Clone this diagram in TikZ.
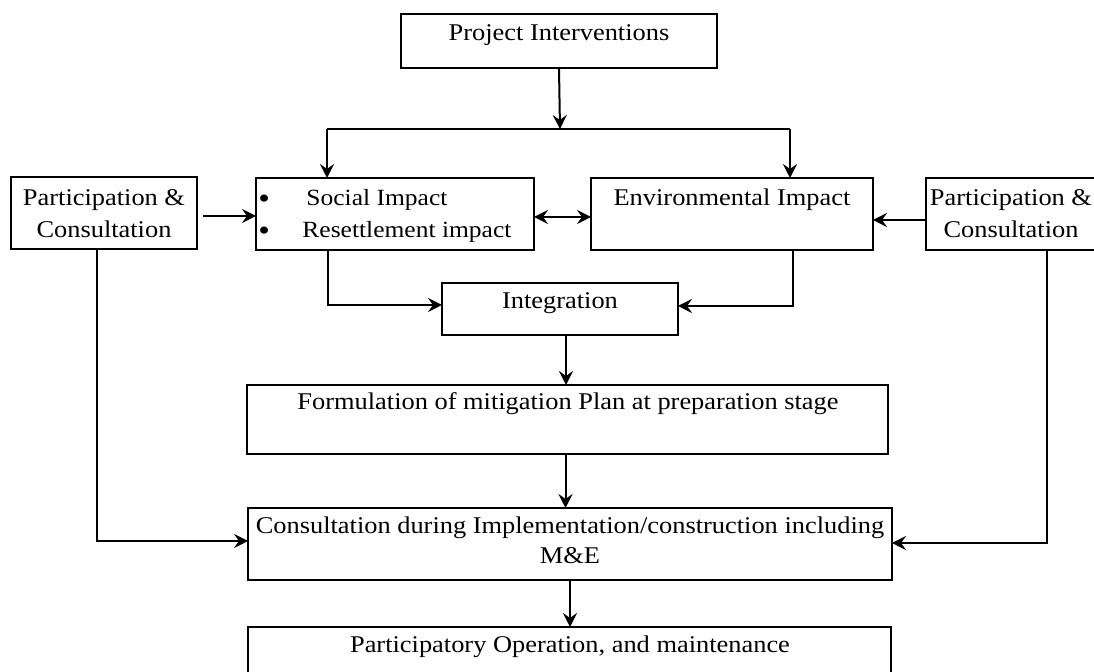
\documentclass[tikz,border=0pt]{standalone}
\usepackage{fontspec}
\setmainfont{Liberation Serif}[FakeStretch=1.1]
\usetikzlibrary{arrows.meta}

\begin{document}
\begin{tikzpicture}[x=0.5pt, y=-0.5pt,
  box/.style={draw, line width=1.3pt, inner sep=0pt, outer sep=0pt, anchor=north west},
  txt/.style={inner sep=0pt, anchor=base, font=\fontsize{12}{14}\selectfont},
  txtl/.style={txt, anchor=base west},
  tip/.tip={Stealth[length=7pt,width=7pt,inset=2.5pt]},
  arr/.style={draw, line width=1pt, -tip},
  darr/.style={draw, line width=1pt, tip-tip},
  ln/.style={draw, line width=1pt}]

\useasboundingbox (0,0) rectangle (1094,672);
\clip (0,0) rectangle (1094,672);
\fill[white] (0,0) rectangle (1094,672);

% boxes
\node[box, minimum width=158pt, minimum height=27pt] (pi) at (401,14) {};
\node[box, minimum width=93pt, minimum height=36pt] (pcl) at (11,177) {};
\node[box, minimum width=139pt, minimum height=36pt] (soc) at (256,178) {};
\node[box, minimum width=141pt, minimum height=36pt] (env) at (591,178) {};
\node[box, minimum width=90pt, minimum height=36pt] (pcr) at (926,178) {};
\node[box, minimum width=118pt, minimum height=26pt] (intg) at (442,283) {};
\node[box, minimum width=320.5pt, minimum height=34.5pt] (form) at (247,385) {};
\node[box, minimum width=322pt, minimum height=36pt] (cons) at (248,508) {};
\node[box, minimum width=321.5pt, minimum height=40pt] (op) at (248,627) {};

% texts
\node[txt] (tpi) at (559,41) {Project Interventions};
\node[txt] (tpcl1) at (104,206) {Participation \&};
\node[txt] (tpcl2) at (104,238) {Consultation};
\node[txtl, font=\fontsize{15}{15}\selectfont] (b1) at (258,209) {•};
\node[txtl, font=\fontsize{15}{15}\selectfont] (b2) at (258,241) {•};
\node[txtl, font=\fontsize{11.6}{13}\selectfont] (tsoc1) at (306,206) {Social Impact};
\node[txtl, font=\fontsize{11.6}{13}\selectfont] (tsoc2) at (302,238) {Resettlement impact};
\node[txt] (tenv) at (732,206) {Environmental Impact};
\node[txt] (tpcr1) at (1011,206) {Participation \&};
\node[txt] (tpcr2) at (1011,238) {Consultation};
\node[txt] (tint) at (560,309) {Integration};
\node[txt] (tform) at (568,410) {Formulation of mitigation Plan at preparation stage};
\node[txt] (tcons1) at (570,534) {Consultation during Implementation/construction including};
\node[txt] (tcons2) at (570,564) {M\&E};
\node[txt] (top) at (570,653) {Participatory Operation, and maintenance};

% junction points
\coordinate (br) at (560,129);
\coordinate (bl) at (327,129);
\coordinate (bre) at (790,129);
\coordinate (sj) at (328,305);
\coordinate (ej) at (793,306);
\coordinate (lj) at (97,541);
\coordinate (rj) at (1047,543);

% connectors
\path[arr] (pi.south) -- (br);
\path[ln] (bl) -- (bre);
\path[arr] (bl) -- (bl |- soc.north);
\path[arr] (bre) -- (bre |- env.north);
\path[arr, shorten <=3pt] ([yshift=-1.5pt]pcl.east) -- ([yshift=-1.5pt]pcl.east -| soc.west);
\path[darr] ([yshift=-1.5pt]soc.east) -- ([yshift=-1.5pt]soc.east -| env.west);
\path[arr] ([yshift=-3pt]pcr.west) -- ([yshift=-3pt]pcr.west -| env.east);
\path[arr] (sj |- soc.south) -- (sj) -- (sj -| intg.west);
\path[arr] (ej |- env.south) -- (ej) -- (ej -| intg.east);
\path[arr] ([xshift=3pt]intg.south) -- ([xshift=3pt]intg.south |- form.north);
\path[arr] ([xshift=-1pt]form.south) -- ([xshift=-1pt]form.south |- cons.north);
\path[arr] (cons.south) -- (cons.south |- op.north);
\path[arr] (lj |- pcl.south) -- (lj) -- (lj -| cons.west);
\path[arr] (rj |- pcr.south) -- (rj) -- (rj -| cons.east);
\end{tikzpicture}
\end{document}
